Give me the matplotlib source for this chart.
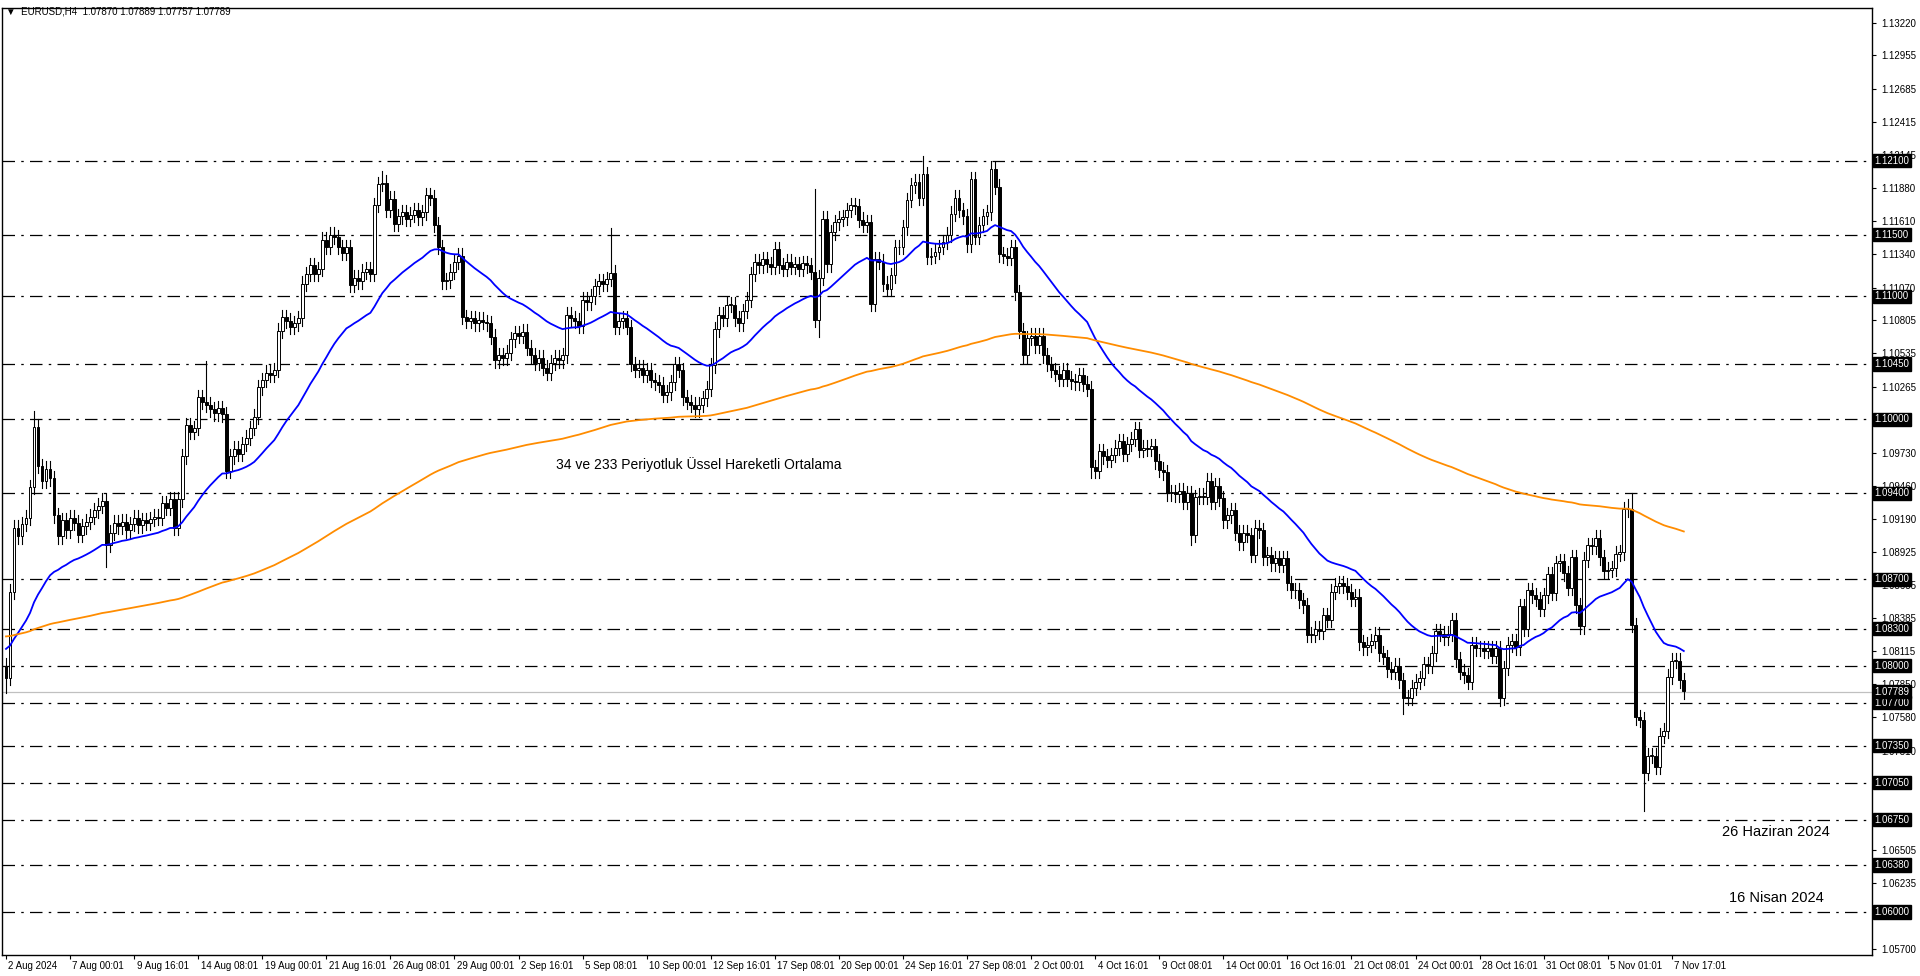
import numpy as np
import matplotlib
matplotlib.use("Agg")
import matplotlib.pyplot as plt
from matplotlib.patches import Rectangle

plt.rcParams["font.family"] = ["Liberation Sans", "DejaVu Sans"]

# ---------------------------------------------------------------------------
# Data (prices in 1e-4 units, one close per H4 bar, 2 Aug - 7 Nov 2024)
# ---------------------------------------------------------------------------
closes = [
    10790, 10860, 10912, 10905, 10915, 10920, 10945, 10994, 10962, 10950,
    10960, 10952, 10922, 10905, 10918, 10910, 10920, 10916, 10906, 10913,
    10917, 10921, 10926, 10930, 10934, 10898, 10908, 10916, 10913, 10917,
    10910, 10915, 10920, 10914, 10918, 10916, 10919, 10921, 10920, 10932,
    10928, 10935, 10912, 10935, 10970, 10995, 10990, 10993, 11018, 11014,
    11012, 11008, 11005, 11009, 11004, 10958, 10970, 10976, 10972, 10980,
    10985, 10993, 11002, 11026, 11032, 11038, 11036, 11040, 11072, 11083,
    11080, 11075, 11078, 11082, 11110, 11118, 11125, 11118, 11122, 11146,
    11140, 11150, 11148, 11140, 11135, 11140, 11109, 11115, 11112, 11120,
    11122, 11118, 11174, 11191, 11192, 11170, 11179, 11159, 11165, 11168,
    11163, 11166, 11170, 11164, 11168, 11182, 11180, 11158, 11140, 11112,
    11113, 11120, 11128, 11133, 11083, 11080, 11082, 11078, 11081, 11079,
    11078, 11067, 11048, 11052, 11050, 11054, 11065, 11070, 11068, 11071,
    11058, 11052, 11046, 11050, 11042, 11038, 11046, 11050, 11048, 11052,
    11085, 11082, 11080, 11076, 11097, 11095, 11100, 11108, 11112, 11110,
    11114, 11119, 11075, 11080, 11082, 11075, 11045, 11040, 11042, 11036,
    11040, 11032, 11030, 11028, 11020, 11022, 11030, 11045, 11040, 11018,
    11014, 11012, 11008, 11012, 11017, 11025, 11044, 11073, 11085, 11082,
    11093, 11093, 11082, 11078, 11088, 11097, 11118, 11128, 11125, 11130,
    11126, 11124, 11138, 11125, 11122, 11128, 11124, 11126, 11122, 11127,
    11125, 11120, 11081, 11115, 11163, 11126, 11152, 11160, 11163, 11164,
    11170, 11174, 11173, 11162, 11158, 11160, 11094, 11130, 11128, 11110,
    11106, 11117, 11140, 11140, 11156, 11178, 11190, 11193, 11180, 11199,
    11132, 11133, 11136, 11140, 11144, 11150, 11167, 11180, 11170, 11165,
    11142, 11195, 11148, 11158, 11165, 11168, 11203, 11189, 11134, 11133,
    11131, 11140, 11103, 11072, 11052, 11066, 11068, 11060, 11068, 11052,
    11045, 11040, 11037, 11033, 11040, 11033, 11031, 11030, 11036, 11029,
    11025, 10961, 10958, 10974, 10970, 10967, 10971, 10977, 10982, 10972,
    10980, 10984, 10992, 10975, 10977, 10976, 10978, 10966, 10959, 10957,
    10940, 10941, 10939, 10942, 10933, 10940, 10906, 10937, 10938, 10937,
    10950, 10933, 10946, 10936, 10918, 10922, 10926, 10908, 10900, 10908,
    10906, 10890, 10912, 10910, 10888, 10890, 10883, 10887, 10882, 10887,
    10867, 10861, 10861, 10853, 10849, 10825, 10825, 10830, 10828, 10841,
    10837, 10860, 10865, 10867, 10865, 10860, 10854, 10856, 10819, 10815,
    10817, 10820, 10825, 10810, 10807, 10797, 10795, 10800, 10788, 10774,
    10774, 10782, 10787, 10790, 10801, 10800, 10810, 10828, 10826, 10823,
    10826, 10837, 10805, 10795, 10792, 10787, 10817, 10814, 10814, 10812,
    10814, 10808, 10814, 10774, 10798, 10817, 10820, 10815, 10848, 10830,
    10861, 10857, 10854, 10846, 10857, 10874, 10859, 10883, 10885, 10875,
    10863, 10888, 10849, 10832, 10886, 10898, 10897, 10904, 10888, 10877,
    10878, 10879, 10891, 10892, 10927, 10927, 10833, 10758, 10756, 10713,
    10727, 10727, 10718, 10743, 10747, 10791, 10804, 10804, 10788, 10779,
]
first_open = 10800

# notable wick extremes (bar index -> price)
spike_highs = {7: 11007, 50: 11047, 94: 11202, 151: 11155, 202: 11187,
               229: 11214, 241: 11198, 246: 11210, 405: 10935, 406: 10940}
spike_lows = {0: 10778, 25: 10880, 203: 11067, 271: 10952, 349: 10761,
              373: 10767, 409: 10682, 296: 10898}

levels = [1.12100, 1.11500, 1.11000, 1.10450, 1.10000, 1.09400, 1.08700,
          1.08300, 1.08000, 1.07700, 1.07350, 1.07050, 1.06750, 1.06380, 1.06000]
axis_ticks = [1.13220, 1.12955, 1.12685, 1.12415, 1.12145, 1.11880, 1.11610,
              1.11340, 1.11070, 1.10805, 1.10535, 1.10265, 1.09730, 1.09460,
              1.09190, 1.08925, 1.08655, 1.08385, 1.08115, 1.07850, 1.07580,
              1.07310, 1.06505, 1.06235, 1.05700]
last_price = 1.07789

date_labels = ["2 Aug 2024", "7 Aug 00:01", "9 Aug 16:01", "14 Aug 08:01",
               "19 Aug 00:01", "21 Aug 16:01", "26 Aug 08:01", "29 Aug 00:01",
               "2 Sep 16:01", "5 Sep 08:01", "10 Sep 00:01", "12 Sep 16:01",
               "17 Sep 08:01", "20 Sep 00:01", "24 Sep 16:01", "27 Sep 08:01",
               "2 Oct 00:01", "4 Oct 16:01", "9 Oct 08:01", "14 Oct 00:01",
               "16 Oct 16:01", "21 Oct 08:01", "24 Oct 00:01", "28 Oct 16:01",
               "31 Oct 08:01", "5 Nov 01:01", "7 Nov 17:01"]
label_step = 16

# ---------------------------------------------------------------------------
# Build OHLC + EMAs
# ---------------------------------------------------------------------------
c = np.array(closes, dtype=float) / 1e4
o = np.concatenate([[first_open / 1e4], c[:-1]])
wick = 0.0006
h = np.maximum(o, c) + wick
l = np.minimum(o, c) - wick
for i, v in spike_highs.items():
    h[i] = max(h[i], v / 1e4)
for i, v in spike_lows.items():
    l[i] = min(l[i], v / 1e4)


def ema(values, period, seed):
    a = 2.0 / (period + 1)
    out = np.empty_like(values)
    prev = seed
    for k, v in enumerate(values):
        prev = prev + a * (v - prev)
        out[k] = prev
    return out


ema34 = ema(c, 34, 1.0815)
ema233 = ema(c, 233, 1.0824)

# ---------------------------------------------------------------------------
# Plot
# ---------------------------------------------------------------------------
fig = plt.figure(figsize=(19.2, 9.76), dpi=100)
ax = fig.add_axes([2 / 1920, 21 / 976, 1870 / 1920, 947 / 976])
ax.set_xlim(-1, 466)
ax.set_ylim(1.0565, 1.1334)

n = len(c)
x = np.arange(n)
bw = 0.72
for i in range(n):
    ax.plot([i, i], [l[i], h[i]], color="black", lw=0.8, zorder=3)
    bottom = min(o[i], c[i])
    height = max(abs(c[i] - o[i]), 0.00003)
    face = "white" if c[i] >= o[i] else "black"
    ax.add_patch(Rectangle((i - bw / 2, bottom), bw, height, facecolor=face,
                           edgecolor="black", lw=0.7, zorder=4))

ax.plot(x, ema34, color="#0000ff", lw=1.3, zorder=5)
ax.plot(x, ema233, color="#ff8c00", lw=1.3, zorder=5)

for lv in levels:
    ax.axhline(lv, color="black", lw=0.9, ls=(0, (10, 5, 2, 5)), zorder=2)
ax.axhline(last_price, color="#c0c0c0", lw=0.9, zorder=1)

# right price axis
ax.yaxis.tick_right()
ax.set_yticks(axis_ticks)
ax.set_yticklabels([f"{t:.5f}" for t in axis_ticks], fontsize=7)
ax.tick_params(axis="y", length=3, pad=4)
for lv in levels + [last_price]:
    ax.text(1.0015, lv, f"{lv:.5f}", transform=ax.get_yaxis_transform(),
            fontsize=7, color="white", va="center", ha="left", zorder=10,
            bbox=dict(facecolor="black", edgecolor="black", pad=1.2),
            clip_on=False)

# bottom time axis
ticks = np.arange(len(date_labels)) * label_step
ax.set_xticks(ticks)
ax.set_xticklabels([])
ax.tick_params(axis="x", length=3)
for t, lab in zip(ticks, date_labels):
    ax.text(t + 0.6, -0.006, lab, transform=ax.get_xaxis_transform(),
            fontsize=7, ha="left", va="top")

# annotations
ax.text(173, 1.0963, "34 ve 233 Periyotluk Üssel Hareketli Ortalama",
        fontsize=10, ha="center", va="center", zorder=6)
ax.text(442, 1.0665, "26 Haziran 2024", fontsize=10.5, ha="center", va="center")
ax.text(442, 1.0611, "16 Nisan 2024", fontsize=10.5, ha="center", va="center")

fig.text(6 / 1920, 1 - 12 / 976,
         "\u25BC  EURUSD,H4  1.07870 1.07889 1.07757 1.07789",
         fontsize=7, ha="left", va="center")

for s in ax.spines.values():
    s.set_linewidth(1.0)

fig.savefig("out.png", dpi=100, facecolor="white")
